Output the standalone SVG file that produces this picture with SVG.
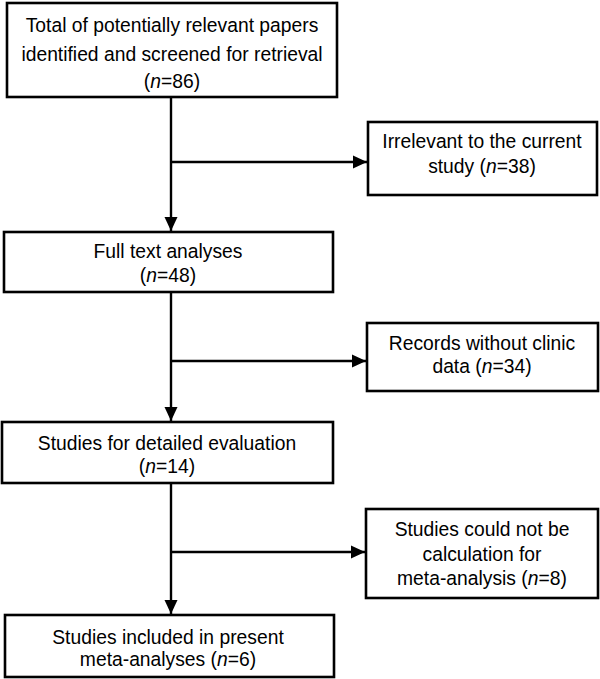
<svg xmlns="http://www.w3.org/2000/svg" width="600" height="679" viewBox="0 0 600 679">
<style>
.box{fill:#fff;stroke:#000;stroke-width:2.6}
.t{font-family:"Liberation Sans",Arial,sans-serif;font-size:19.3px;fill:#000;text-anchor:middle}
.c{stroke:#000;stroke-width:2.4;fill:none}
</style>
<defs>
<marker id="ah" markerWidth="14" markerHeight="14" viewBox="0 0 14 14" refX="14" refY="7" orient="auto" markerUnits="userSpaceOnUse">
<path d="M0,0.5 L14,7 L0,13.5 z" fill="#000"/>
</marker>
</defs>
<rect width="600" height="679" fill="#fff"/>
<g id="connectors">
<line class="c" x1="171" y1="97" x2="171" y2="231" marker-end="url(#ah)"/>
<line class="c" x1="171" y1="162" x2="367" y2="162" marker-end="url(#ah)"/>
<line class="c" x1="171" y1="292" x2="171" y2="421" marker-end="url(#ah)"/>
<line class="c" x1="171" y1="361" x2="366" y2="361" marker-end="url(#ah)"/>
<line class="c" x1="171" y1="483" x2="171" y2="614" marker-end="url(#ah)"/>
<line class="c" x1="171" y1="552" x2="365" y2="552" marker-end="url(#ah)"/>
</g>
<g id="n1">
<rect class="box" x="7" y="3" width="330" height="94"/>
<text class="t" x="172" y="32">Total of potentially relevant papers</text>
<text class="t" x="172" y="61">identified and screened for retrieval</text>
<text class="t" x="172" y="88">(<tspan font-style="italic">n</tspan>=86)</text>
</g>
<g id="n2">
<rect class="box" x="368" y="122" width="229" height="73"/>
<text class="t" x="482" y="148">Irrelevant to the current</text>
<text class="t" x="482" y="173">study (<tspan font-style="italic">n</tspan>=38)</text>
</g>
<g id="n3">
<rect class="box" x="4" y="232" width="329" height="60"/>
<text class="t" x="168" y="258">Full text analyses</text>
<text class="t" x="168" y="282">(<tspan font-style="italic">n</tspan>=48)</text>
</g>
<g id="n4">
<rect class="box" x="367" y="323" width="231" height="68"/>
<text class="t" x="482" y="350">Records without clinic</text>
<text class="t" x="482" y="373">data (<tspan font-style="italic">n</tspan>=34)</text>
</g>
<g id="n5">
<rect class="box" x="2" y="422" width="331" height="61"/>
<text class="t" x="167" y="450">Studies for detailed evaluation</text>
<text class="t" x="167" y="473">(<tspan font-style="italic">n</tspan>=14)</text>
</g>
<g id="n6">
<rect class="box" x="366" y="509" width="232" height="89"/>
<text class="t" x="482" y="536">Studies could not be</text>
<text class="t" x="482" y="561">calculation for</text>
<text class="t" x="482" y="585">meta-analysis (<tspan font-style="italic">n</tspan>=8)</text>
</g>
<g id="n7">
<rect class="box" x="5" y="615" width="329" height="62"/>
<text class="t" x="168" y="644">Studies included in present</text>
<text class="t" x="168" y="666">meta-analyses (<tspan font-style="italic">n</tspan>=6)</text>
</g>
</svg>
